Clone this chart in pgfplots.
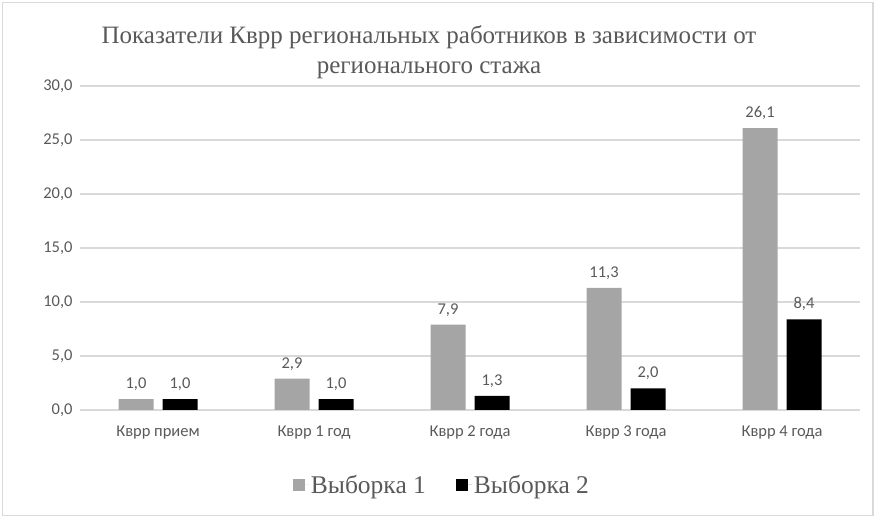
\documentclass[border=0pt]{standalone}
\usepackage{fontspec}
\setmainfont{Liberation Serif}
\newfontfamily\calib{Carlito}
\usepackage{pgfplots}
\pgfplotsset{compat=1.18}
\definecolor{barA}{HTML}{A5A5A5}
\definecolor{txt}{HTML}{595959}
\definecolor{grd}{HTML}{D9D9D9}
\begin{document}
\begin{tikzpicture}
\path[use as bounding box] (0,0) rectangle (876bp,518bp);
\draw[grd, line width=1.2bp] (2.5bp,2.5bp) rectangle (873bp,515.5bp);
\node[txt, align=center, font=\fontsize{25bp}{30bp}\selectfont] at (429bp,466bp)
  {Показатели Кврр региональных работников в зависимости от\\регионального стажа};
\begin{axis}[
  at={(80bp,108bp)}, anchor=south west,
  scale only axis, width=780bp, height=324bp,
  xmin=-0.5, xmax=4.5, ymin=0, ymax=30,
  ytick={0,5,...,30},
  xtick={0,...,4},
  xticklabels={Кврр прием, Кврр 1 год, Кврр 2 года, Кврр 3 года, Кврр 4 года},
  axis x line*=bottom, axis y line*=left,
  y axis line style={draw=none},
  x axis line style={grd, line width=1.2bp, -},
  major tick length=0pt,
  ymajorgrids, grid style={grd, line width=1.2bp},
  ybar=9bp, bar width=35bp,
  /pgf/number format/fixed,
  /pgf/number format/fixed zerofill,
  /pgf/number format/precision=1,
  /pgf/number format/use comma,
  /pgf/number format/assume math mode=true,
  tick label style={font=\calib\fontsize{16.5bp}{18bp}\selectfont, text=txt},
  yticklabel style={xshift=-4bp},
  xticklabel style={yshift=-12bp},
  nodes near coords,
  every node near coord/.append style={font=\calib\fontsize{16.5bp}{18bp}\selectfont, text=txt, yshift=5bp},
  legend style={at={(0.464,-0.231)}, anchor=center, draw=none, fill=none,
    legend columns=2, font=\fontsize{25.5bp}{28bp}\selectfont, text=txt,
    /tikz/every even column/.append style={column sep=28bp}},
  legend image code/.code={\fill[#1] (0bp,-6bp) rectangle (12bp,6bp); \path (0bp,0bp) -- (16bp,0bp);},
]
\addplot[fill=barA, draw=none] coordinates {(0,1.0) (1,2.9) (2,7.9) (3,11.3) (4,26.1)};
\addplot[fill=black, draw=none] coordinates {(0,1.0) (1,1.0) (2,1.3) (3,2.0) (4,8.4)};
\legend{Выборка 1, Выборка 2}
\end{axis}
\end{tikzpicture}
\end{document}
